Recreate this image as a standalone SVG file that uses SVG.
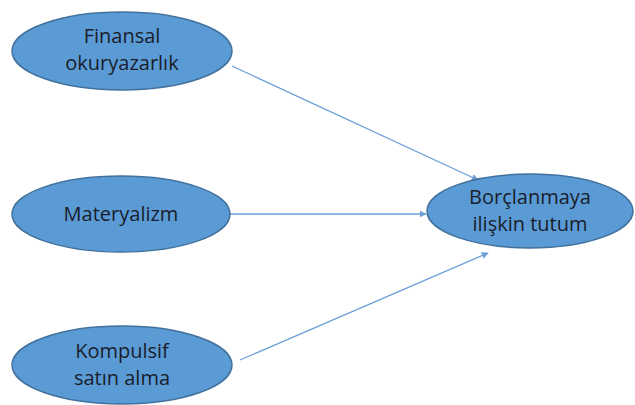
<svg xmlns="http://www.w3.org/2000/svg" width="635" height="405" viewBox="0 0 635 405">
<style>
.node ellipse{fill:#5B9BD5;stroke:#41719C;stroke-width:1.5}
.node text{font-family:"Open Sans","Liberation Sans",sans-serif;font-size:20px;fill:#1a1d2b;text-anchor:middle}
.edge{stroke:#6A9FD8;stroke-width:1.3;fill:none;marker-end:url(#arr)}
</style>
<defs>
<marker id="arr" viewBox="0 0 10 10" refX="9" refY="5" markerWidth="7" markerHeight="7" orient="auto" markerUnits="userSpaceOnUse">
<path d="M0,0 L10,5 L0,10 z" fill="#6A9FD8"/>
</marker>
</defs>
<rect width="635" height="405" fill="#ffffff"/>
<g id="connectors">
<line class="edge" x1="232" y1="66" x2="478" y2="180"/>
<line class="edge" x1="230" y1="214" x2="426" y2="214"/>
<line class="edge" x1="240" y1="360" x2="488" y2="253"/>
</g>
<g id="n1" class="node">
<ellipse cx="122" cy="51" rx="110" ry="39"/>
<text x="122" y="43">Finansal</text>
<text x="122" y="70">okuryazarlık</text>
</g>
<g id="n2" class="node">
<ellipse cx="121" cy="214" rx="109" ry="38"/>
<text x="121" y="221">Materyalizm</text>
</g>
<g id="n3" class="node">
<ellipse cx="122" cy="365" rx="110" ry="39"/>
<text x="122" y="358">Kompulsif</text>
<text x="122" y="385">satın alma</text>
</g>
<g id="n4" class="node">
<ellipse cx="530" cy="211" rx="103" ry="37"/>
<text x="530" y="204">Borçlanmaya</text>
<text x="530" y="231">ilişkin tutum</text>
</g>
</svg>
